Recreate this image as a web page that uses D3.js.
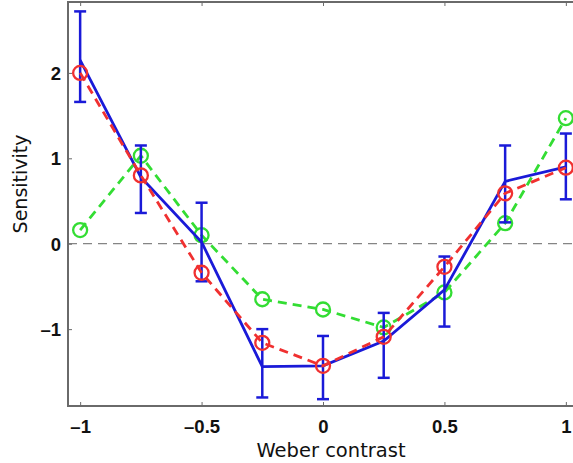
<!DOCTYPE html>
<html>
<head>
<meta charset="utf-8">
<script src="https://cdn.jsdelivr.net/npm/d3@7"></script>
<style>
  body { margin: 0; background: #fff; }
  svg { display: block; }
</style>
</head>
<body>
<svg id="chart" width="573" height="463"></svg>
<script>
// contrast levels on the x axis
const contrast = [-1, -0.75, -0.5, -0.25, 0, 0.25, 0.5, 0.75, 1];

// measured sensitivity (blue, with error bars)
const blueMean = [2.15, 0.78, 0.02, -1.44, -1.43, -1.14, -0.54, 0.73, 0.90];
const blueHigh = [2.72, 1.15, 0.48, -1.00, -1.08, -0.81, -0.15, 1.15, 1.29];
const blueLow  = [1.66, 0.36, -0.44, -1.80, -1.82, -1.57, -0.97, 0.25, 0.52];

// model curves
const redVals   = [2.00, 0.80, -0.34, -1.16, -1.43, -1.09, -0.27, 0.59, 0.89];
const greenVals = [0.16, 1.03, 0.10, -0.65, -0.77, -0.98, -0.57, 0.24, 1.47];

const xTicks = [-1, -0.5, 0, 0.5, 1];
const yTicks = [-1, 0, 1, 2];

const svg = d3.select("#chart");

const x = d3.scaleLinear().domain([-1.05, 1.05]).range([68, 578]);
const y = d3.scaleLinear().domain([-1.9, 2.83]).range([406, 2]);

const fmt = d => d < 0 ? "\u2013" + Math.abs(d) : String(d);

// frame
svg.append("rect")
    .attr("x", x(-1.05)).attr("y", y(2.83))
    .attr("width", x(1.05) - x(-1.05)).attr("height", y(-1.9) - y(2.83))
    .attr("fill", "none").attr("stroke", "#6a6a6a").attr("stroke-width", 2);

// axes with inward ticks
const xAxis = svg.append("g")
    .attr("transform", `translate(0,${y(-1.9)})`)
    .call(d3.axisBottom(x).tickValues(xTicks).tickSize(-4).tickPadding(10).tickFormat(fmt));
const xTop = svg.append("g")
    .attr("transform", `translate(0,${y(2.83)})`)
    .call(d3.axisTop(x).tickValues(xTicks).tickSize(-4).tickFormat(""));
const yAxis = svg.append("g")
    .attr("transform", `translate(${x(-1.05)},0)`)
    .call(d3.axisLeft(y).tickValues(yTicks).tickSize(-4).tickPadding(7).tickFormat(fmt));

[xAxis, xTop, yAxis].forEach(g => {
    g.select(".domain").remove();
    g.selectAll(".tick line").attr("stroke", "#6a6a6a").attr("stroke-width", 1);
    g.selectAll("text")
        .attr("fill", "#111")
        .style("font-family", "'Liberation Sans', Arial, sans-serif")
        .style("font-weight", "bold")
        .style("font-size", "18.5px");
});
xAxis.selectAll("text").attr("dy", "0.9em");
yAxis.selectAll("text").attr("dy", "0.35em");

// zero reference line
svg.append("line")
    .attr("x1", x(-1.05)).attr("x2", x(1.05))
    .attr("y1", y(0)).attr("y2", y(0))
    .attr("stroke", "#666").attr("stroke-width", 1)
    .attr("stroke-dasharray", "9,6");

const line = d3.line().x(d => x(d[0])).y(d => y(d[1]));

// green dashed
svg.append("path")
    .datum(d3.zip(contrast, greenVals))
    .attr("d", line)
    .attr("fill", "none").attr("stroke", "#33dd33").attr("stroke-width", 2.8)
    .attr("stroke-dasharray", "9,6");
svg.selectAll(".gdot").data(d3.zip(contrast, greenVals)).enter()
    .append("circle").attr("class", "gdot")
    .attr("cx", d => x(d[0])).attr("cy", d => y(d[1])).attr("r", 7)
    .attr("fill", "none").attr("stroke", "#33dd33").attr("stroke-width", 2.3);

// blue error bars
const capW = 6;
const errs = svg.selectAll(".err").data(contrast.map((c, i) => [c, blueLow[i], blueHigh[i]])).enter()
    .append("g").attr("class", "err")
    .attr("stroke", "#1a1ad8").attr("stroke-width", 2.5);
errs.append("line")
    .attr("x1", d => x(d[0])).attr("x2", d => x(d[0]))
    .attr("y1", d => y(d[1])).attr("y2", d => y(d[2]));
errs.append("line")
    .attr("x1", d => x(d[0]) - capW).attr("x2", d => x(d[0]) + capW)
    .attr("y1", d => y(d[1])).attr("y2", d => y(d[1]));
errs.append("line")
    .attr("x1", d => x(d[0]) - capW).attr("x2", d => x(d[0]) + capW)
    .attr("y1", d => y(d[2])).attr("y2", d => y(d[2]));

// blue solid
svg.append("path")
    .datum(d3.zip(contrast, blueMean))
    .attr("d", line)
    .attr("fill", "none").attr("stroke", "#1a1ad8").attr("stroke-width", 2.8);

// red dashed
svg.append("path")
    .datum(d3.zip(contrast, redVals))
    .attr("d", line)
    .attr("fill", "none").attr("stroke", "#f03030").attr("stroke-width", 2.8)
    .attr("stroke-dasharray", "9,6");
svg.selectAll(".rdot").data(d3.zip(contrast, redVals)).enter()
    .append("circle").attr("class", "rdot")
    .attr("cx", d => x(d[0])).attr("cy", d => y(d[1])).attr("r", 7)
    .attr("fill", "none").attr("stroke", "#f03030").attr("stroke-width", 2.3);

// axis titles
svg.append("text")
    .attr("x", (x(-1) + x(1)) / 2 + 8).attr("y", 457)
    .attr("text-anchor", "middle")
    .style("font-family", "'DejaVu Sans', Verdana, sans-serif")
    .style("font-size", "19.5px")
    .attr("fill", "#111")
    .text("Weber contrast");

svg.append("text")
    .attr("transform", `translate(27,${y(0.7)}) rotate(-90)`)
    .attr("text-anchor", "middle")
    .style("font-family", "'DejaVu Sans', Verdana, sans-serif")
    .style("font-size", "19px")
    .attr("fill", "#111")
    .text("Sensitivity");
</script>
</body>
</html>
